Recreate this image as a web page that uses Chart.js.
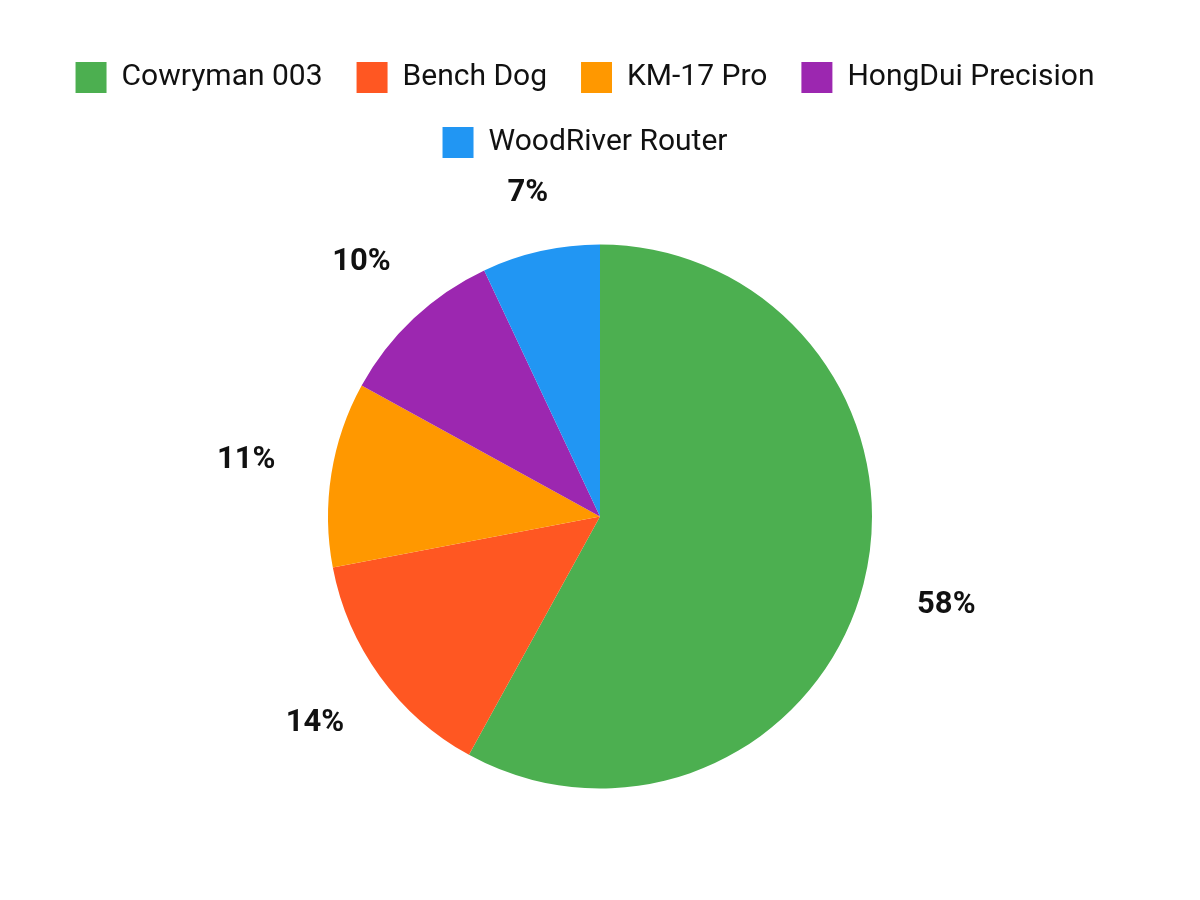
<!DOCTYPE html>
<html>
<head>
<meta charset="utf-8">
<script src="https://cdn.jsdelivr.net/npm/chart.js@4"></script>
<style>
    html, body { margin: 0; padding: 0; background: #ffffff; }
    #wrap { width: 1200px; height: 900px; }
</style>
</head>
<body>
<div id="wrap"><canvas id="chart" width="1200" height="900"></canvas></div>
<script>
const categories = ['Cowryman 003', 'Bench Dog', 'KM-17 Pro', 'HongDui Precision', 'WoodRiver Router'];
const shares = [58, 14, 11, 10, 7];
const sliceColors = ['#4CAF50', '#FF5722', '#FF9800', '#9C27B0', '#2196F3'];

// percent labels placed outside each slice, from the arc geometry
const outsideLabels = {
    id: 'outsideLabels',
    afterDatasetsDraw(chart) {
        const ctx = chart.ctx;
        const meta = chart.getDatasetMeta(0);
        const total = shares.reduce((a, b) => a + b, 0);
        ctx.save();
        ctx.font = 'bold 31px Roboto';
        ctx.fillStyle = '#111111';
        ctx.textAlign = 'center';
        ctx.textBaseline = 'middle';
        meta.data.forEach((arc, i) => {
            const text = Math.round(shares[i] / total * 100) + '%';
            const halfW = ctx.measureText(text).width / 2;
            const mid = (arc.startAngle + arc.endAngle) / 2;
            const r = arc.outerRadius * 1.2 + Math.abs(Math.cos(mid)) * halfW * 1.1;
            const x = arc.x + Math.cos(mid) * r;
            const y = arc.y + Math.sin(mid) * r;
            ctx.fillText(text, x, y);
        });
        ctx.restore();
    }
};

// legend in the reference sits a little left of centre
const legendShift = {
    id: 'legendShift',
    afterLayout(chart) {
        if (chart.legend) {
            chart.legend.left -= 15;
            chart.legend.right -= 15;
        }
    }
};

new Chart(document.getElementById('chart'), {
    type: 'pie',
    data: {
        labels: categories,
        datasets: [{
            data: shares,
            backgroundColor: sliceColors,
            borderWidth: 0
        }]
    },
    options: {
        responsive: false,
        animation: false,
        radius: 272,
        layout: { padding: { top: 28, bottom: 35 } },
        plugins: {
            tooltip: { enabled: false },
            legend: {
                position: 'top',
                labels: {
                    font: { family: 'Roboto', size: 30 },
                    color: '#111111',
                    boxWidth: 31,
                    boxHeight: 31,
                    padding: 34
                }
            }
        }
    },
    plugins: [outsideLabels, legendShift]
});
</script>
</body>
</html>
